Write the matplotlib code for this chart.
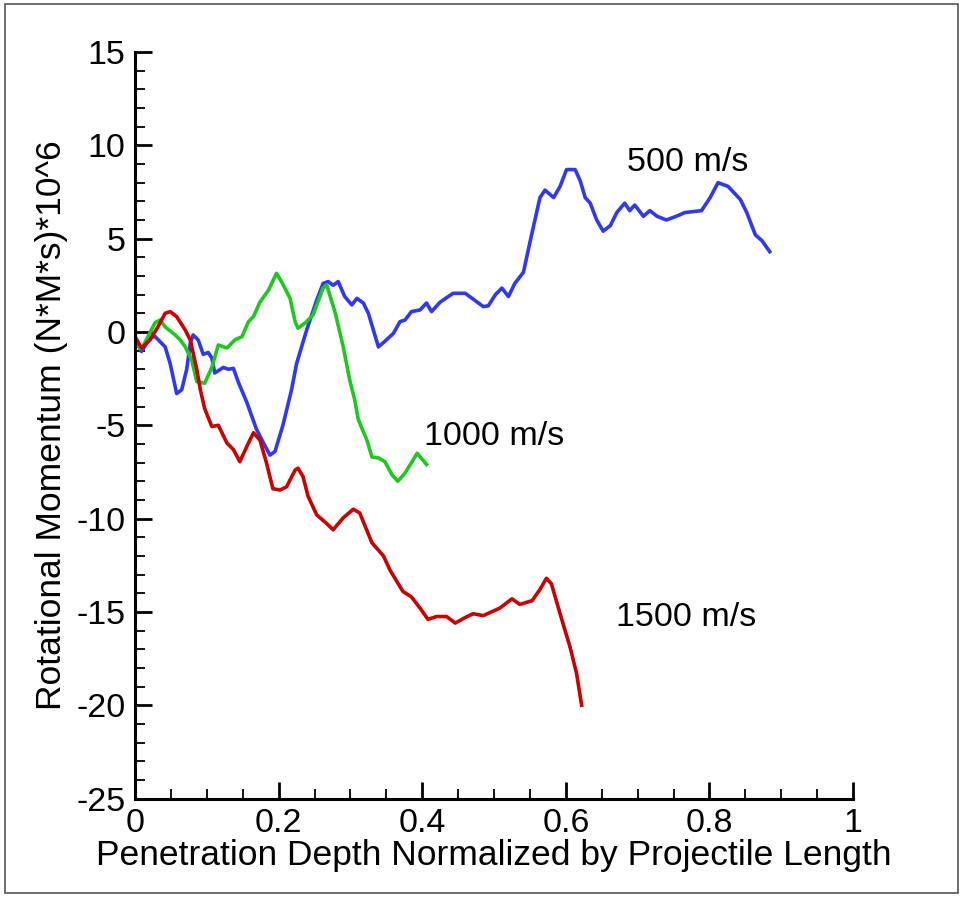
import matplotlib
matplotlib.use("Agg")
import matplotlib.pyplot as plt
from matplotlib.ticker import MultipleLocator
from matplotlib.patches import Rectangle

plt.rcParams['font.family'] = ['Liberation Sans', 'DejaVu Sans']
plt.rcParams['axes.unicode_minus'] = False

# 500 m/s
x500 = [0, .009, .021, .028, .042, .049, .058, .065, .072, .077,
        .081, .088, .095, .102, .107, .111, .123, .130, .137, .144,
        .156, .169, .181, .188, .195, .206, .218, .225, .239, .253,
        .262, .269, .276, .283, .292, .302, .309, .318, .325, .332,
        .339, .348, .360, .369, .376, .385, .397, .406, .413, .425,
        .443, .460, .485, .492, .502, .511, .520, .529, .541, .550,
        .564, .571, .583, .592, .601, .613, .620, .627, .634, .643,
        .652, .662, .671, .682, .689, .696, .708, .717, .727, .740,
        .754, .766, .789, .801, .812, .826, .843, .852, .864, .873,
        .884]
y500 = [-0.4, -1.05, -0.3, -0.25, -0.8, -1.7, -3.3, -3.1, -2.0, -0.6,
        -0.16, -0.43, -1.2, -1.1, -1.4, -2.2, -1.9, -2.0, -1.95, -2.7,
        -3.8, -5.2, -6.1, -6.6, -6.4, -5.0, -3.1, -1.7, 0.1, 1.7,
        2.6, 2.7, 2.5, 2.7, 1.9, 1.45, 1.8, 1.55, 1.0, 0.1,
        -0.8, -0.5, -0.07, 0.55, 0.64, 1.09, 1.18, 1.55, 1.09, 1.6,
        2.07, 2.07, 1.36, 1.4, 2.0, 2.35, 1.9, 2.6, 3.2, 4.8,
        7.2, 7.6, 7.2, 7.8, 8.7, 8.7, 8.1, 7.2, 6.9, 6.0,
        5.4, 5.7, 6.4, 6.9, 6.5, 6.8, 6.2, 6.5, 6.2, 6.0,
        6.2, 6.4, 6.5, 7.2, 8.0, 7.8, 7.1, 6.4, 5.2, 4.9,
        4.3]

# 1000 m/s
x1000 = [0, .007, .012, .028, .035, .042, .056, .063, .070, .079,
         .086, .097, .107, .116, .128, .139, .149, .158, .165, .174,
         .186, .197, .204, .216, .223, .227, .237, .248, .262, .267,
         .279, .290, .299, .306, .311, .323, .330, .339, .348, .358,
         .366, .376, .385, .393, .406]
y1000 = [-0.3, -0.9, -0.7, 0.5, 0.64, 0.27, -0.16, -0.43, -0.8, -1.5,
         -2.66, -2.75, -1.9, -0.7, -0.86, -0.43, -0.25, 0.55, 0.82, 1.6,
         2.25, 3.14, 2.7, 1.8, 0.55, 0.2, 0.48, 0.91, 2.36, 2.52,
         1.0, -0.8, -2.57, -3.64, -4.7, -5.8, -6.7, -6.75, -6.95, -7.66,
         -8.0, -7.57, -7.0, -6.5, -7.1]

# 1500 m/s
x1500 = [0, .009, .021, .032, .042, .049, .058, .070, .077, .081,
         .086, .091, .097, .107, .116, .128, .137, .146, .158, .165,
         .174, .183, .192, .202, .211, .223, .227, .234, .241, .253,
         .265, .276, .290, .304, .313, .330, .346, .355, .373, .385,
         .397, .408, .420, .434, .446, .460, .471, .485, .508, .525,
         .536, .553, .564, .573, .580, .592, .606, .615, .622]
y1500 = [-0.25, -0.86, -0.43, 0.28, 1.0, 1.09, 0.82, 0.1, -0.43, -1.14,
         -2.0, -3.1, -4.1, -5.07, -5.0, -5.95, -6.3, -6.95, -5.95, -5.4,
         -5.8, -7.0, -8.4, -8.47, -8.3, -7.4, -7.3, -7.75, -8.8, -9.8,
         -10.2, -10.6, -9.96, -9.5, -9.7, -11.3, -12.0, -12.75, -13.9, -14.2,
         -14.8, -15.4, -15.25, -15.25, -15.6, -15.3, -15.1, -15.2, -14.8, -14.3,
         -14.6, -14.4, -13.8, -13.2, -13.5, -15.1, -16.9, -18.3, -20.0]

xticks = [0, 0.2, 0.4, 0.6, 0.8, 1.0]
xticklabels = ['0', '0.2', '0.4', '0.6', '0.8', '1']

fig = plt.figure(figsize=(9.63, 8.97), dpi=100)
ax = fig.add_axes([0.1402, 0.1098, 0.7456, 0.8322])

ax.plot(x500, y500, color='#2f38f2', lw=2.6)
ax.plot(x1000, y1000, color='#1ec81e', lw=2.6)
ax.plot(x1500, y1500, color='#cc0000', lw=2.6)

ax.text(0.77, 9.1, '500 m/s', fontsize=24.5, ha='center', va='center')
ax.text(0.50, -5.6, '1000 m/s', fontsize=24.5, ha='center', va='center')
ax.text(0.767, -15.3, '1500 m/s', fontsize=24.5, ha='center', va='center')

ax.set_xlim(0, 1)
ax.set_ylim(-25, 15)
ax.set_xticks(xticks)
ax.set_xticklabels(xticklabels)
ax.xaxis.set_minor_locator(MultipleLocator(0.05))
ax.yaxis.set_major_locator(MultipleLocator(5))
ax.yaxis.set_minor_locator(MultipleLocator(1))

ax.spines['top'].set_visible(False)
ax.spines['right'].set_visible(False)
ax.spines['left'].set_linewidth(2.2)
ax.spines['bottom'].set_linewidth(2.2)
ax.tick_params(which='major', direction='in', length=12, width=2, labelsize=24.5, pad=7)
ax.tick_params(which='minor', direction='in', length=7, width=1.3)

ax.set_xlabel('Penetration Depth Normalized by Projectile Length', fontsize=25.5, labelpad=0)
ax.set_ylabel('Rotational Momentum (N*M*s)*10^6', fontsize=25.5, labelpad=6)

fig.patches.append(Rectangle((0.005, 0.005), 0.99, 0.99, transform=fig.transFigure,
                             fill=False, edgecolor='#555555', lw=1.2))

fig.savefig('out.png', dpi=100)
